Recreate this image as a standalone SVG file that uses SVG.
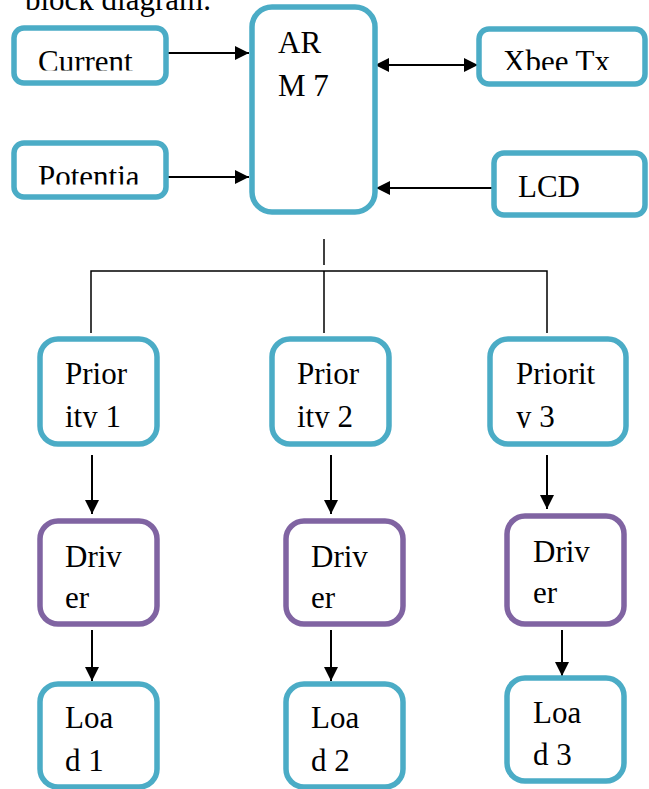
<svg xmlns="http://www.w3.org/2000/svg" width="649" height="789" viewBox="0 0 649 789">
<style>
.b{fill:#fff;stroke:#4BACC6;stroke-width:5.5}
.p{fill:#fff;stroke:#8064A2;stroke-width:5.5}
.t{font-family:"Liberation Serif","Times New Roman",serif;font-size:31px;fill:#000}
.c{stroke:#000;stroke-width:2;fill:none}
.w{stroke:#000;stroke-width:1.5;fill:none}
</style>
<defs>
<marker id="ah" viewBox="0 0 14 14" refX="14" refY="7" markerWidth="14" markerHeight="14" markerUnits="userSpaceOnUse" orient="auto-start-reverse">
<path d="M0,0 L14,7 L0,14 z" fill="#000"/>
</marker>
<clipPath id="ccur"><rect x="0" y="0" width="649" height="70.5"/></clipPath>
<clipPath id="cpot"><rect x="0" y="100" width="649" height="84.5"/></clipPath>
<clipPath id="cxb"><rect x="0" y="0" width="649" height="70"/></clipPath>
<clipPath id="cpr"><rect x="0" y="300" width="649" height="128"/></clipPath>
</defs>
<text class="t" x="25" y="10">block diagram.</text>
<g id="connectors">
<line class="c" x1="166" y1="53" x2="249" y2="53" marker-end="url(#ah)"/>
<line class="c" x1="166" y1="177" x2="249" y2="177" marker-end="url(#ah)"/>
<line class="c" x1="375" y1="65" x2="478" y2="65" marker-start="url(#ah)" marker-end="url(#ah)"/>
<line class="c" x1="493" y1="188" x2="376" y2="188" marker-end="url(#ah)"/>
<line class="w" x1="324" y1="239" x2="324" y2="265"/>
<polyline class="w" points="91,333 91,271 547,271 547,333"/>
<line class="w" x1="324" y1="271" x2="324" y2="333"/>
<line class="c" x1="92" y1="455" x2="92" y2="514" marker-end="url(#ah)"/>
<line class="c" x1="331" y1="455" x2="331" y2="514" marker-end="url(#ah)"/>
<line class="c" x1="547" y1="455" x2="547" y2="509" marker-end="url(#ah)"/>
<line class="c" x1="92" y1="630" x2="92" y2="681" marker-end="url(#ah)"/>
<line class="c" x1="331" y1="630" x2="331" y2="681" marker-end="url(#ah)"/>
<line class="c" x1="562" y1="630" x2="562" y2="676" marker-end="url(#ah)"/>
</g>
<g id="current"><rect class="b" x="14" y="28" width="152" height="55" rx="10"/><text class="t" x="38" y="72" clip-path="url(#ccur)">Current</text></g>
<g id="potentia"><rect class="b" x="14" y="143" width="152" height="54" rx="10"/><text class="t" x="38" y="187" clip-path="url(#cpot)">Potentia</text></g>
<g id="arm"><rect class="b" x="252" y="7" width="123" height="205" rx="20"/><text class="t" x="278" y="53">AR</text><text class="t" x="278" y="96">M 7</text></g>
<g id="xbee"><rect class="b" x="479" y="29" width="166" height="55" rx="10"/><text class="t" x="503" y="71.5" clip-path="url(#cxb)">Xbee Tx</text></g>
<g id="lcd"><rect class="b" x="494" y="153" width="151" height="62" rx="10"/><text class="t" x="518" y="197">LCD</text></g>
<g id="priority1"><rect class="b" x="40" y="339" width="117" height="105" rx="18"/><text class="t" x="65" y="384">Prior</text><text class="t" x="65" y="427" clip-path="url(#cpr)">ity 1</text></g>
<g id="priority2"><rect class="b" x="272" y="339" width="117" height="105" rx="18"/><text class="t" x="297" y="384">Prior</text><text class="t" x="297" y="427" clip-path="url(#cpr)">ity 2</text></g>
<g id="priority3"><rect class="b" x="490" y="339" width="136" height="105" rx="18"/><text class="t" x="516" y="384">Priorit</text><text class="t" x="516" y="427" clip-path="url(#cpr)">y 3</text></g>
<g id="driver1"><rect class="p" x="40" y="521" width="117" height="103" rx="18"/><text class="t" x="65" y="567">Driv</text><text class="t" x="65" y="608">er</text></g>
<g id="driver2"><rect class="p" x="286" y="521" width="117" height="103" rx="18"/><text class="t" x="311" y="567">Driv</text><text class="t" x="311" y="608">er</text></g>
<g id="driver3"><rect class="p" x="507" y="516" width="117" height="108" rx="18"/><text class="t" x="533" y="562">Driv</text><text class="t" x="533" y="603">er</text></g>
<g id="load1"><rect class="b" x="40" y="684" width="117" height="103" rx="18"/><text class="t" x="65" y="728">Loa</text><text class="t" x="65" y="771">d 1</text></g>
<g id="load2"><rect class="b" x="286" y="684" width="117" height="103" rx="18"/><text class="t" x="311" y="728">Loa</text><text class="t" x="311" y="771">d 2</text></g>
<g id="load3"><rect class="b" x="507" y="678" width="117" height="103" rx="18"/><text class="t" x="533" y="723">Loa</text><text class="t" x="533" y="765">d 3</text></g>
</svg>
